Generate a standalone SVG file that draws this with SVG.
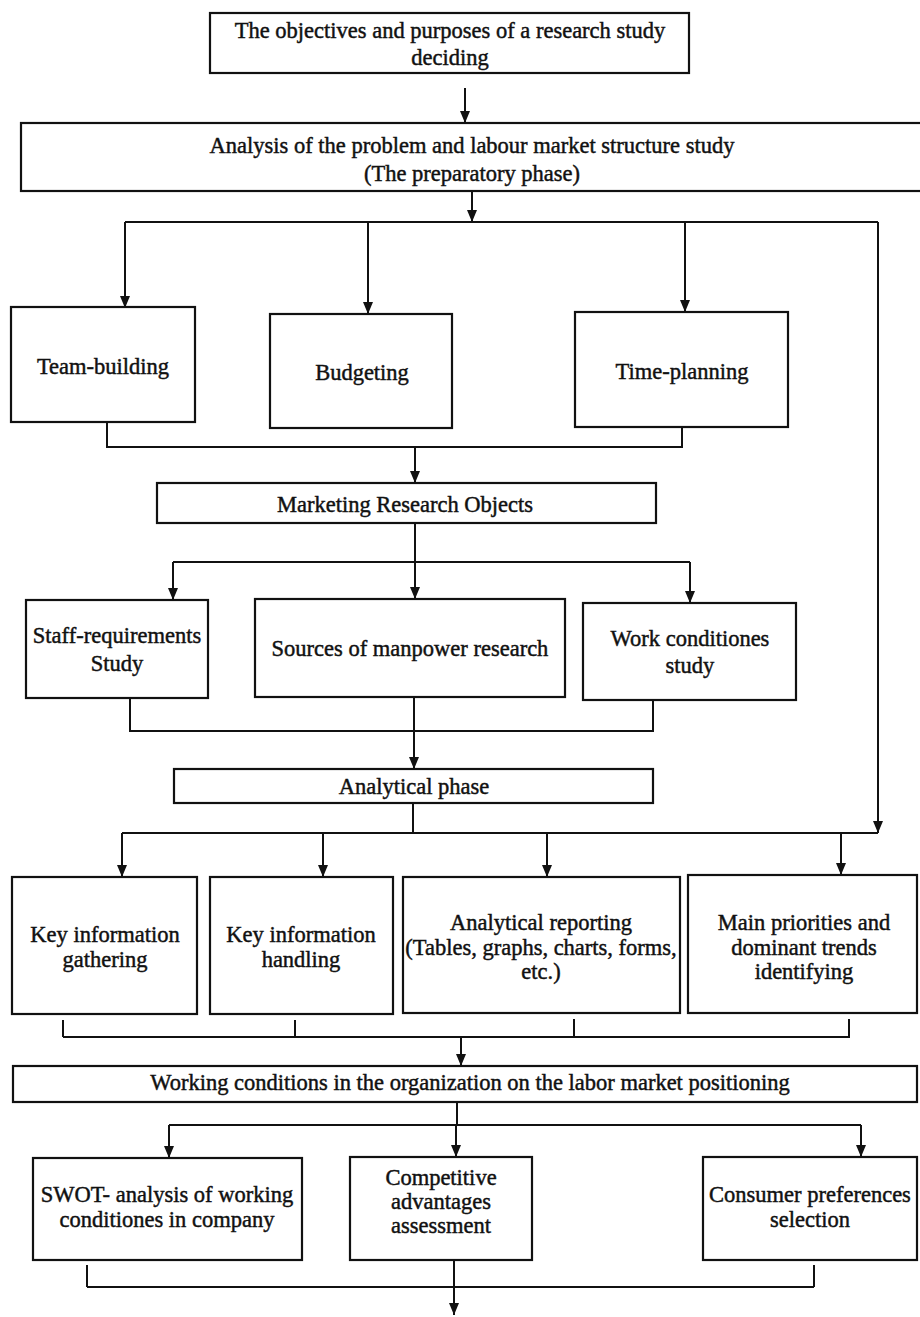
<svg xmlns="http://www.w3.org/2000/svg" width="920" height="1317" viewBox="0 0 920 1317">
<style>
.box{fill:#fff;stroke:#111;stroke-width:2.2}
.t{font-family:"Liberation Serif","Times New Roman",serif;font-size:22.5px;fill:#111;text-anchor:middle;stroke:#111;stroke-width:0.45}
.c{fill:none;stroke:#111;stroke-width:2}
.a{fill:none;stroke:#111;stroke-width:2;marker-end:url(#ah)}
</style>
<defs>
<marker id="ah" viewBox="0 0 12 12" refX="12" refY="6" markerWidth="12" markerHeight="12" markerUnits="userSpaceOnUse" orient="auto">
<path d="M0,1 L12,6 L0,11 Z" fill="#111"/>
</marker>
</defs>
<rect width="920" height="1317" fill="#fff"/>

<g id="connectors">
<line class="a" x1="465" y1="88" x2="465" y2="123"/>
<line class="a" x1="472" y1="191" x2="472" y2="222"/>
<polyline class="c" points="125,222 878,222"/>
<line class="a" x1="125" y1="222" x2="125" y2="308"/>
<line class="a" x1="368" y1="222" x2="368" y2="314"/>
<line class="a" x1="685" y1="222" x2="685" y2="312"/>
<line class="a" x1="878" y1="222" x2="878" y2="833"/>
<polyline class="c" points="107,422 107,447 682,447 682,427"/>
<line class="a" x1="415" y1="447" x2="415" y2="483"/>
<line class="a" x1="415" y1="523" x2="415" y2="599"/>
<polyline class="c" points="173,562 690,562"/>
<line class="a" x1="173" y1="562" x2="173" y2="600"/>
<line class="a" x1="690" y1="562" x2="690" y2="603"/>
<polyline class="c" points="130,698 130,731 653,731 653,700"/>
<line class="a" x1="414" y1="697" x2="414" y2="769"/>
<line class="c" x1="413" y1="803" x2="413" y2="833"/>
<polyline class="c" points="122,833 878,833"/>
<line class="a" x1="122" y1="833" x2="122" y2="877"/>
<line class="a" x1="323" y1="833" x2="323" y2="877"/>
<line class="a" x1="547" y1="833" x2="547" y2="877"/>
<line class="a" x1="841" y1="833" x2="841" y2="875"/>
<line class="c" x1="63" y1="1020" x2="63" y2="1037"/>
<line class="c" x1="295" y1="1020" x2="295" y2="1037"/>
<line class="c" x1="574" y1="1019" x2="574" y2="1037"/>
<line class="c" x1="849" y1="1019" x2="849" y2="1037"/>
<line class="c" x1="63" y1="1037" x2="850" y2="1037"/>
<line class="a" x1="461" y1="1037" x2="461" y2="1066"/>
<line class="c" x1="457" y1="1102" x2="457" y2="1125"/>
<line class="c" x1="169" y1="1125" x2="861" y2="1125"/>
<line class="a" x1="169" y1="1125" x2="169" y2="1158"/>
<line class="a" x1="456" y1="1125" x2="456" y2="1157"/>
<line class="a" x1="861" y1="1125" x2="861" y2="1157"/>
<line class="c" x1="87" y1="1265" x2="87" y2="1287"/>
<line class="c" x1="814" y1="1265" x2="814" y2="1287"/>
<line class="c" x1="87" y1="1287" x2="814" y2="1287"/>
<line class="a" x1="454" y1="1260" x2="454" y2="1315"/>
</g>

<g id="n1"><rect class="box" x="210" y="13" width="479" height="60"/>
<text class="t" x="450" y="38">The objectives and purposes of a research study</text>
<text class="t" x="450" y="65">deciding</text></g>

<g id="n2"><rect class="box" x="21" y="123" width="909" height="68"/>
<text class="t" x="472" y="153">Analysis of the problem and labour market structure study</text>
<text class="t" x="472" y="181">(The preparatory phase)</text></g>

<g id="n3"><rect class="box" x="11" y="307" width="184" height="115"/>
<text class="t" x="103" y="374">Team-building</text></g>

<g id="n4"><rect class="box" x="270" y="314" width="182" height="114"/>
<text class="t" x="362" y="380">Budgeting</text></g>

<g id="n5"><rect class="box" x="575" y="312" width="213" height="115"/>
<text class="t" x="682" y="379">Time-planning</text></g>

<g id="n6"><rect class="box" x="157" y="483" width="499" height="40"/>
<text class="t" x="405" y="512">Marketing Research Objects</text></g>

<g id="n7"><rect class="box" x="26" y="600" width="182" height="98"/>
<text class="t" x="117" y="643">Staff-requirements</text>
<text class="t" x="117" y="671">Study</text></g>

<g id="n8"><rect class="box" x="255" y="599" width="310" height="98"/>
<text class="t" x="410" y="656">Sources of manpower research</text></g>

<g id="n9"><rect class="box" x="583" y="603" width="213" height="97"/>
<text class="t" x="690" y="646">Work conditiones</text>
<text class="t" x="690" y="673">study</text></g>

<g id="n10"><rect class="box" x="174" y="769" width="479" height="34"/>
<text class="t" x="414" y="794">Analytical phase</text></g>

<g id="n11"><rect class="box" x="12" y="877" width="185" height="137"/>
<text class="t" x="105" y="942">Key information</text>
<text class="t" x="105" y="967">gathering</text></g>

<g id="n12"><rect class="box" x="210" y="877" width="183" height="137"/>
<text class="t" x="301" y="942">Key information</text>
<text class="t" x="301" y="967">handling</text></g>

<g id="n13"><rect class="box" x="403" y="877" width="277" height="136"/>
<text class="t" x="541" y="930">Analytical reporting</text>
<text class="t" x="541" y="955">(Tables, graphs, charts, forms,</text>
<text class="t" x="541" y="979">etc.)</text></g>

<g id="n14"><rect class="box" x="688" y="875" width="229" height="138"/>
<text class="t" x="804" y="930">Main priorities and</text>
<text class="t" x="804" y="955">dominant trends</text>
<text class="t" x="804" y="979">identifying</text></g>

<g id="n15"><rect class="box" x="13" y="1066" width="904" height="36"/>
<text class="t" x="470" y="1090">Working conditions in the organization on the labor market positioning</text></g>

<g id="n16"><rect class="box" x="33" y="1158" width="269" height="102"/>
<text class="t" x="167" y="1202">SWOT- analysis of working</text>
<text class="t" x="167" y="1227">conditiones in company</text></g>

<g id="n17"><rect class="box" x="350" y="1157" width="182" height="103"/>
<text class="t" x="441" y="1185">Competitive</text>
<text class="t" x="441" y="1209">advantages</text>
<text class="t" x="441" y="1233">assessment</text></g>

<g id="n18"><rect class="box" x="703" y="1157" width="214" height="103"/>
<text class="t" x="810" y="1202">Consumer preferences</text>
<text class="t" x="810" y="1227">selection</text></g>
</svg>
